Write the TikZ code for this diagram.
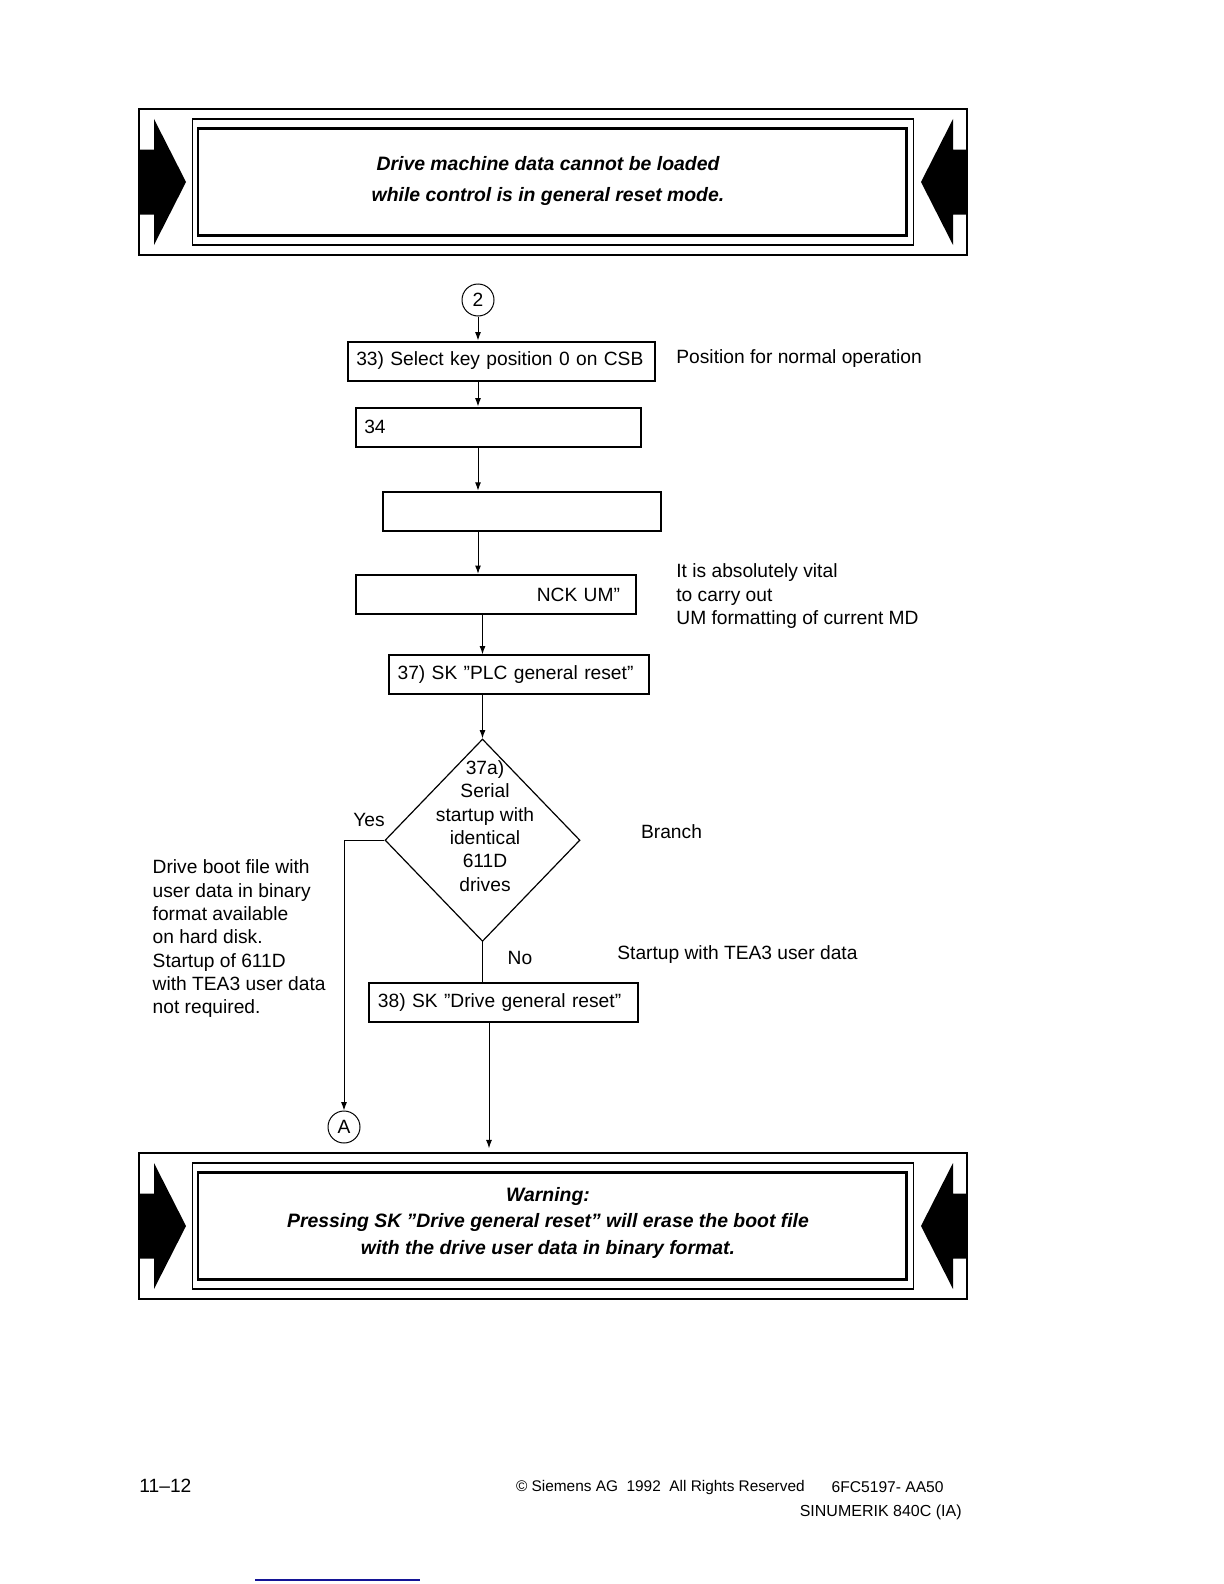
\documentclass[tikz,border=0pt]{standalone}
\usepackage{fontspec}
\setmainfont{Liberation Sans}
\usepackage{tikz}
\usetikzlibrary{shapes.geometric}
\usetikzlibrary{arrows.meta}
\usetikzlibrary{positioning}
\definecolor{linkblue}{RGB}{20,20,150}
\tikzstyle{link} = [draw, line width=0.5pt]
\tikzstyle{flow} = [link, -{Latex[length=4.2pt,width=3pt]}]
\tikzstyle{every step} = [draw, line width=1pt, minimum height=19.5pt, inner xsep=4.3pt, inner ysep=0pt]
\tikzstyle{stepbox} = [rectangle, align=left, every step]
\tikzstyle{decision} = [diamond, draw, line width=0.6pt, minimum width=97.5pt, minimum height=101.2pt, inner sep=0pt]
\tikzstyle{connector} = [circle, draw, line width=0.5pt, minimum size=16pt, inner sep=0pt]
\tikzstyle{note} = [inner sep=0pt, align=left]
\tikzstyle{frameout} = [rectangle, draw, line width=0.7pt, minimum width=414pt, minimum height=73pt, inner sep=0pt]
\tikzstyle{framethin} = [rectangle, draw, line width=0.6pt, minimum width=360.6pt, minimum height=63pt, inner sep=0pt]
\tikzstyle{framethick} = [rectangle, draw, line width=1.4pt, minimum width=354.3pt, minimum height=53.6pt, inner sep=0pt]
\tikzstyle{warntext} = [align=center, inner sep=0pt]

\begin{document}
\begin{tikzpicture} [x=0.5pt, y=-0.5pt, font=\fontsize{9.6}{11.65}\selectfont]

\useasboundingbox (0,0) rectangle (1224,1584);

% Warning frames

\foreach \cy/\fname in {182/warntop, 1226/warnbot} {
  \node[frameout] (\fname) at (553,\cy) {};
  \node[framethin] (\fname-thin) at (553,\cy) {};
  \node[framethick] (\fname-thick) at (552.3,\cy) {};
  \fill (139,{\cy-32.5}) -- (154,{\cy-32.5}) -- (154,{\cy-63}) -- (186,\cy) -- (154,{\cy+63}) -- (154,{\cy+32.5}) -- (139,{\cy+32.5}) -- cycle;
  \fill (967,{\cy-32.5}) -- (953,{\cy-32.5}) -- (953,{\cy-63}) -- (921,\cy) -- (953,{\cy+63}) -- (953,{\cy+32.5}) -- (967,{\cy+32.5}) -- cycle;
}

\node[warntext, font=\fontsize{9.7}{15.85}\selectfont\bfseries\itshape] (toptext) at (548,181) {Drive machine data cannot be loaded\\while control is in general reset mode.};

\node[warntext, font=\fontsize{9.7}{13.3}\selectfont\bfseries\itshape] (bottext) at (548,1222.7) {Warning:\\Pressing SK ”Drive general reset” will erase the boot file\\with the drive user data in binary format.};

% Steps

\node[connector] (c2) at (478,300) {2};

\node[stepbox, text width=145.2pt] (b33) [node distance=30.5pt, below of=c2, xshift=11.75pt] {33) Select key position 0 on CSB};

\node[stepbox, text width=133.9pt] (b34) [node distance=33pt, below of=b33, xshift=-1.65pt] {34};

\node[stepbox, text width=130.4pt] (b35) [node distance=42.1pt, below of=b34, xshift=11.7pt] {};

\node[stepbox, minimum width=140.2pt, text width=124.2pt, align=right] (b36) [node distance=41.6pt, below of=b35, xshift=-12.9pt] {NCK UM”};

\node[stepbox, text width=121.4pt] (b37) [node distance=40.25pt, below of=b36, xshift=11.6pt] {37) SK ”PLC general reset”};

% Branch

\node[decision] (dia) [node distance=82.65pt, below of=b37, xshift=-18.25pt] {};

\node[note, align=center] (diatext) at ([xshift=1.25pt, yshift=7.15pt]dia.center) {37a)\\Serial\\startup with\\identical\\611D\\drives};

\node[stepbox, text width=125.9pt] (b38) [node distance=80.95pt, below of=dia, xshift=10.65pt] {38) SK ”Drive general reset”};

\node[connector] (cA) at (344,1127) {A};

\node[note] (yes) at (369,820) {Yes};
\node[note] (no) at (520,958) {No};

% Connectors

\draw[flow] (c2) -- (c2 |- b33.north);
\draw[flow] (b33.south -| c2) -- (b34.north -| c2);
\draw[flow] (b34.south -| c2) -- (b35.north -| c2);
\draw[flow] (b35.south -| c2) -- (b36.north -| c2);
\draw[flow] (b36.south -| dia) -- (b37.north -| dia);
\draw[flow] (b37.south -| dia) -- (dia.north);
\draw[flow] (dia.west) -| (cA);
\draw[link] (dia.south) -- (dia.south |- b38.north);
\draw[flow, shorten >=2pt] ([xshift=-7.4pt]b38.south) -- ([xshift=-7.4pt]b38.south |- warnbot.north);

% Notes

\node[note, anchor=west] (posnote) at (676,358.3) {Position for normal operation};

\node[note, anchor=west] (vitalnote) at (676,596.3) {It is absolutely vital\\to carry out\\UM formatting of current MD};

\node[note, anchor=west] (branchnote) at (640.7,832) {Branch};

\node[note, anchor=west] (teanote) at (617,954.5) {Startup with TEA3 user data};

\node[note, anchor=west] (bootnote) at (152.3,938.9) {Drive boot file with\\user data in binary\\format available\\on hard disk.\\Startup of 611D\\with TEA3 user data\\not required.};

% Footer

\node[note, anchor=west] (pageno) at (139,1485.5) {11–12};

\node[note, anchor=west, font=\fontsize{7.7}{10}\selectfont] (copyright) at (515.6,1487.6) {© Siemens AG\ \ 1992\ \ All Rights Reserved};

\node[note, anchor=east, font=\fontsize{7.8}{10}\selectfont] (orderno) at (944,1487.6) {6FC5197- AA50};

\node[note, anchor=east, font=\fontsize{8}{10}\selectfont] (product) at (962,1512) {SINUMERIK 840C (IA)};

\draw[linkblue, line width=0.65pt] (255,1580) -- (420,1580);

\end{tikzpicture}
\end{document}
